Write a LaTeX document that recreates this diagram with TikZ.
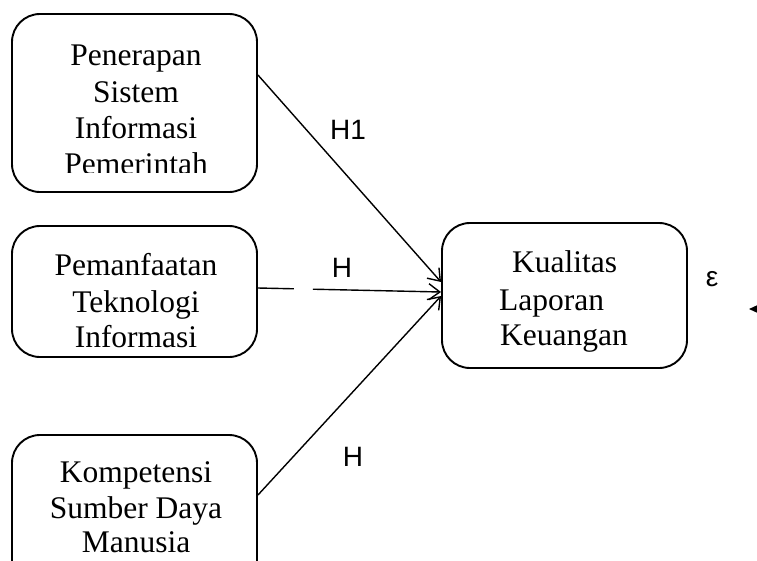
\documentclass[tikz,border=0pt]{standalone}
\usepackage{fontspec}
\setmainfont{Liberation Serif}
\newfontfamily\lsans{Liberation Sans}
\usetikzlibrary{arrows.meta}
\begin{document}
\begin{tikzpicture}[x=1pt,y=-1pt,
  boxnode/.style={draw,line width=1.9pt,rounded corners=28pt,inner sep=0pt},
  txt/.style={font=\fontsize{31.5}{31.5}\selectfont,anchor=base,inner sep=0pt},
  hlab/.style={font=\lsans\fontsize{28}{28}\selectfont,inner sep=0pt},
  conn/.style={line width=1.4pt,-{Straight Barb[length=11pt,width=16pt,line width=1.4pt]}}]
\useasboundingbox (0,0) rectangle (757,560);
\clip (0,0) rectangle (757,560);
\fill[white] (0,0) rectangle (757,560);
% boxes
\node[boxnode,minimum width=245pt,minimum height=178pt] (b1) at (134.5,103) {};
\node[boxnode,minimum width=245pt,minimum height=131pt] (b2) at (134.5,291.5) {};
\node[boxnode,minimum width=245pt,minimum height=155pt] (b3) at (134.5,512.5) {};
\node[boxnode,minimum width=245pt,minimum height=145pt] (b4) at (564.5,295.5) {};
% box 1 text
\node[txt] (t11) at (136,65) {Penerapan};
\node[txt] (t12) at (136,102) {Sistem};
\node[txt] (t13) at (136,138) {Informasi};
\begin{scope}
\clip (20,140) rectangle (250,172);
\node[txt] (t14) at (136,174) {Pemerintah};
\end{scope}
% box 2 text
\node[txt] (t21) at (136,275) {Pemanfaatan};
\node[txt] (t22) at (136,312) {Teknologi};
\node[txt] (t23) at (136,347) {Informasi};
% box 3 text
\node[txt] (t31) at (136,482) {Kompetensi};
\node[txt] (t32) at (136,518) {Sumber Daya};
\node[txt] (t33) at (136,552) {Manusia};
% box 4 text
\node[txt,anchor=base west] (t41) at (512,272) {Kualitas};
\node[txt,anchor=base west] (t42) at (499,310) {Laporan};
\node[txt,anchor=base west] (t43) at (500,345) {Keuangan};
% connectors
\draw[conn] ([yshift=28pt]b1.east) -- ([yshift=13.5pt]b4.west);
\draw[conn,dash pattern=on 36pt off 19pt on 400pt] ([yshift=3.5pt]b2.east) -- ([yshift=3.5pt]b4.west);
\draw[conn] ([yshift=17.5pt]b3.east) -- ([yshift=-0.5pt]b4.west);
% labels
\node[hlab] (h1) at (348,130) {H1};
\node[hlab] (h2) at (342,268) {H};
\node[hlab] (h3) at (353,457) {H};
\node[hlab,font=\lsans\fontsize{28}{28}\selectfont] (eps) at (712,279) {ε};
% error arrow
\coordinate (e1) at (790,309);
\coordinate (e2) at (749,309);
\draw[line width=1.2pt,-{Triangle[length=9pt,width=8pt]}] (e1) -- (e2);
\end{tikzpicture}
\end{document}
